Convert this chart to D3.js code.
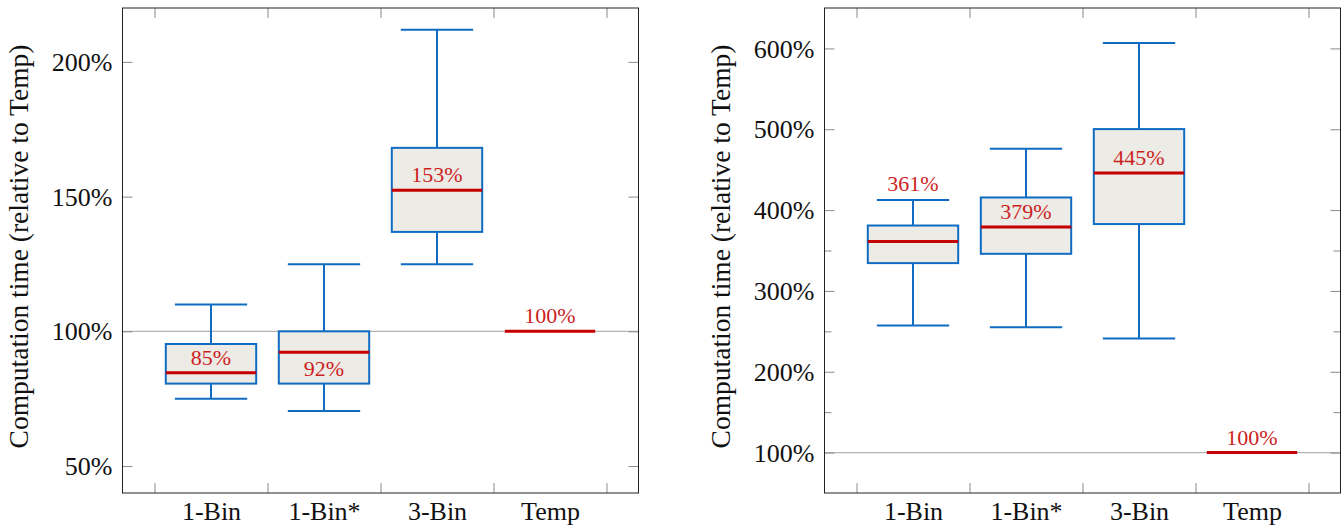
<!DOCTYPE html>
<html>
<head>
<meta charset="utf-8">
<script src="https://cdn.jsdelivr.net/npm/d3@7"></script>
<style>
  html, body { margin: 0; padding: 0; background: #fff; }
  svg { display: block; }
  svg text { font-family: "Liberation Serif", "DejaVu Serif", "Times New Roman", serif; }
</style>
</head>
<body>
<svg id="chart" width="1343" height="525"></svg>
<script>
// ---------------- data ----------------
const categories = ["1-Bin", "1-Bin*", "3-Bin", "Temp"];

// Left panel
const leftLowWhisker  = [75.0, 70.4, 124.9, 100];
const leftQ1          = [80.6, 80.6, 136.9, 100];
const leftMedian      = [84.6, 92.2, 152.4, 100];
const leftQ3          = [95.3, 100.0, 168.1, 100];
const leftHighWhisker = [110.0, 124.9, 211.9, 100];
const leftLabels      = ["85%", "92%", "153%", "100%"];
const leftLabelPlace  = ["above", "below", "above", "above"];
const leftYTicks      = [50, 100, 150, 200];
const leftYMinorTicks = [];
const leftYDomain     = [40, 220];

// Right panel
const rightLowWhisker  = [257.2, 255.2, 241.1, 100];
const rightQ1          = [334.4, 345.9, 382.7, 100];
const rightMedian      = [361.1, 379.0, 445.8, 100];
const rightQ3          = [380.9, 415.6, 500.2, 100];
const rightHighWhisker = [412.4, 475.9, 606.7, 100];
const rightLabels      = ["361%", "379%", "445%", "100%"];
const rightLabelPlace  = ["whisker", "above", "above", "above"];
const rightYTicks      = [100, 200, 300, 400, 500, 600];
const rightYMinorTicks = [150, 250, 350];
const rightYDomain     = [50, 650];

const yTitle = "Computation time (relative to Temp)";
const referenceValue = 100;

// ---------------- styles ----------------
const BLUE = "#0f6cc2";
const RED = "#c40000";
const LABEL_RED = "#cc1f1f";
const FILL = "#ecebe6";
const FRAME = "#222";
const TICK = "#8a8a8a";
const GRID = "#b3b3b3";
const FONT = '"Liberation Serif", "DejaVu Serif", serif';

const svg = d3.select("#chart");

function drawPanel(p) {
  const top = 8, bottom = 493;
  const x = d3.scaleLinear()
    .domain([2.5 - 2.2832, 2.5 + 2.2832])
    .range([p.left, p.left + 516]);
  const y = d3.scaleLinear().domain(p.yDomain).range([bottom, top]);
  const g = svg.append("g");

  const boxW = 0.8, whiskW = 0.64;
  const boundaries = d3.range(categories.length + 1).map(i => i + 0.5);

  // reference grid line
  g.append("line")
    .attr("x1", x.range()[0]).attr("x2", x.range()[1])
    .attr("y1", y(referenceValue)).attr("y2", y(referenceValue))
    .attr("stroke", GRID).attr("stroke-width", 1.2);

  // x ticks (bottom/top, inward)
  const xb = d3.axisBottom(x).tickValues(boundaries).tickSize(-10).tickFormat("");
  const xt = d3.axisTop(x).tickValues(boundaries).tickSize(-10).tickFormat("");
  g.append("g").attr("transform", `translate(0,${bottom})`).call(xb);
  g.append("g").attr("transform", `translate(0,${top})`).call(xt);

  // y ticks left/right
  const yl = d3.axisLeft(y).tickValues(p.yTicks).tickSize(-10).tickFormat("");
  const yr = d3.axisRight(y).tickValues(p.yTicks).tickSize(-10).tickFormat("");
  g.append("g").attr("transform", `translate(${x.range()[0]},0)`).call(yl);
  g.append("g").attr("transform", `translate(${x.range()[1]},0)`).call(yr);
  if (p.yMinor.length) {
    const ylm = d3.axisLeft(y).tickValues(p.yMinor).tickSize(-7).tickFormat("");
    const yrm = d3.axisRight(y).tickValues(p.yMinor).tickSize(-7).tickFormat("");
    g.append("g").attr("transform", `translate(${x.range()[0]},0)`).call(ylm);
    g.append("g").attr("transform", `translate(${x.range()[1]},0)`).call(yrm);
  }
  g.selectAll(".domain").remove();
  g.selectAll(".tick line").attr("stroke", TICK).attr("stroke-width", 1);

  // y tick labels
  const ylab = d3.axisLeft(y).tickValues(p.yTicks).tickSize(0).tickPadding(10)
    .tickFormat(d => d + "%");
  const ylg = g.append("g").attr("transform", `translate(${x.range()[0]},0)`).call(ylab);
  ylg.attr("font-family", FONT);
  ylg.select(".domain").remove();
  ylg.selectAll("text").attr("font-size", 26).attr("fill", "#111").attr("dy", "0.33em");

  // x category labels
  const xlab = d3.axisBottom(x).tickValues(d3.range(1, categories.length + 1))
    .tickSize(0).tickPadding(0).tickFormat((d, i) => categories[i]);
  const xlg = g.append("g").attr("transform", `translate(0,${bottom})`).call(xlab);
  xlg.attr("font-family", FONT);
  xlg.select(".domain").remove();
  xlg.selectAll("text").attr("font-size", 26).attr("fill", "#111").attr("dy", "1.04em");

  // y title
  g.append("text")
    .attr("transform", `translate(${p.titleX},${(top + bottom) / 2 - 4}) rotate(-90)`)
    .attr("text-anchor", "middle")
    .attr("font-family", FONT)
    .attr("font-size", 27.5).attr("fill", "#111")
    .text(yTitle);

  // boxes
  categories.forEach((c, i) => {
    const pos = i + 1;
    const lo = p.low[i], q1 = p.q1[i], md = p.med[i], q3 = p.q3[i], hi = p.high[i];
    const bx0 = x(pos - boxW / 2), bx1 = x(pos + boxW / 2);
    if (hi > lo) {
      g.append("line").attr("x1", x(pos)).attr("x2", x(pos))
        .attr("y1", y(q3)).attr("y2", y(hi)).attr("stroke", BLUE).attr("stroke-width", 2);
      g.append("line").attr("x1", x(pos)).attr("x2", x(pos))
        .attr("y1", y(q1)).attr("y2", y(lo)).attr("stroke", BLUE).attr("stroke-width", 2);
      g.append("line").attr("x1", x(pos - whiskW / 2)).attr("x2", x(pos + whiskW / 2))
        .attr("y1", y(hi)).attr("y2", y(hi)).attr("stroke", BLUE).attr("stroke-width", 2);
      g.append("line").attr("x1", x(pos - whiskW / 2)).attr("x2", x(pos + whiskW / 2))
        .attr("y1", y(lo)).attr("y2", y(lo)).attr("stroke", BLUE).attr("stroke-width", 2);
      g.append("rect").attr("x", bx0).attr("y", y(q3))
        .attr("width", bx1 - bx0).attr("height", y(q1) - y(q3))
        .attr("fill", FILL).attr("stroke", BLUE).attr("stroke-width", 2);
    }
    g.append("line").attr("x1", bx0).attr("x2", bx1)
      .attr("y1", y(md)).attr("y2", y(md)).attr("stroke", RED).attr("stroke-width", 3);

    const place = p.place[i];
    let ty;
    if (place === "below") { ty = y(md) + 24; }
    else if (place === "whisker") { ty = y(hi) - 9; }
    else { ty = y(md) - 8; }
    g.append("text").attr("x", x(pos)).attr("y", ty)
      .attr("text-anchor", "middle").attr("font-family", FONT)
      .attr("font-size", 22).attr("fill", LABEL_RED)
      .text(p.labels[i]);
  });

  // frame
  g.append("rect")
    .attr("x", x.range()[0]).attr("y", top)
    .attr("width", x.range()[1] - x.range()[0]).attr("height", bottom - top)
    .attr("fill", "none").attr("stroke", FRAME).attr("stroke-width", 1);
}

drawPanel({
  left: 122.5, titleX: 28, yDomain: leftYDomain, yTicks: leftYTicks, yMinor: leftYMinorTicks,
  low: leftLowWhisker, q1: leftQ1, med: leftMedian, q3: leftQ3, high: leftHighWhisker,
  labels: leftLabels, place: leftLabelPlace
});
drawPanel({
  left: 824.5, titleX: 730, yDomain: rightYDomain, yTicks: rightYTicks, yMinor: rightYMinorTicks,
  low: rightLowWhisker, q1: rightQ1, med: rightMedian, q3: rightQ3, high: rightHighWhisker,
  labels: rightLabels, place: rightLabelPlace
});
</script>
</body>
</html>
